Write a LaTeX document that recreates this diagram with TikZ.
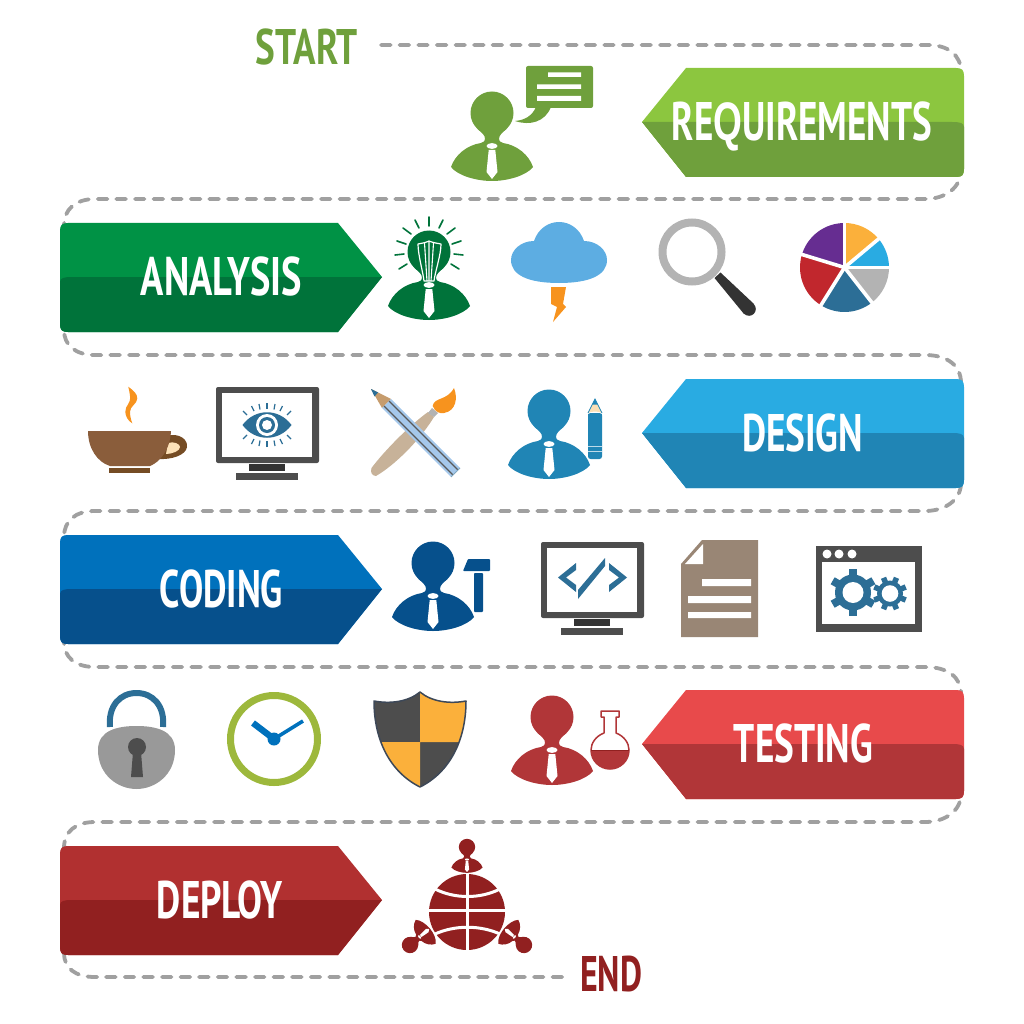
\documentclass[tikz,border=0pt]{standalone}
\usepackage{fontspec}
\usepackage{graphicx}
\setmainfont{Fira Sans}
\newfontfamily\lblfont{PT Sans}
\newfontfamily\qfont{Liberation Sans}
\definecolor{reqL}{HTML}{8CC63F}\definecolor{reqD}{HTML}{6FA03C}
\definecolor{anaL}{HTML}{009245}\definecolor{anaD}{HTML}{00733A}
\definecolor{desL}{HTML}{29ABE2}\definecolor{desD}{HTML}{2085B5}
\definecolor{codL}{HTML}{0071BC}\definecolor{codD}{HTML}{06508C}
\definecolor{tesL}{HTML}{E84A4B}\definecolor{tesD}{HTML}{B13638}
\definecolor{depL}{HTML}{B13030}\definecolor{depD}{HTML}{912020}
\definecolor{steel}{HTML}{2C6E96}\definecolor{dgrey}{HTML}{4D4D4D}
\definecolor{lgrey}{HTML}{B3B3B3}\definecolor{orng}{HTML}{F7931E}
\definecolor{amber}{HTML}{FBB03B}\definecolor{tan1}{HTML}{C7B299}
\definecolor{routec}{HTML}{A0A0A0}
\tikzset{
  route/.style={draw=routec,line width=3.8pt,line cap=round,dash pattern=on 9.6pt off 9pt},
  lbl/.style={inner sep=0pt,outer sep=0pt,font=\lblfont\bfseries},
  ray/.style={line width=1.6pt,line cap=round},
}
\newcommand\fitlbl[3]{\resizebox{#1pt}{#2pt}{\vphantom{H}\smash{#3}}}
% banner pointing left
\newcommand\bannerL[6]{\begin{scope}[shift={(0,#1)}]
  \fill[#2] (642,54) -- (686,0) -- (956,0) .. controls (962,0) and (964,2) .. (964,8) -- (964,101) .. controls (964,107) and (962,109) .. (956,109) -- (686,109) -- cycle;
  \fill[#3] (642,54) .. controls (700,54) and (900,54) .. (952,54) .. controls (960,54) and (964,55) .. (964,59) -- (964,101) .. controls (964,107) and (962,109) .. (956,109) -- (686,109) -- cycle;
  \node[lbl,text=white] (#4) at (#6,53.5) {#5};
\end{scope}}
% banner pointing right
\newcommand\bannerR[6]{\begin{scope}[shift={(0,#1)}]
  \fill[#2] (382,54) -- (338,0) -- (68,0) .. controls (62,0) and (60,2) .. (60,8) -- (60,101) .. controls (60,107) and (62,109) .. (68,109) -- (338,109) -- cycle;
  \fill[#3] (382,54) .. controls (330,54) and (120,54) .. (72,54) .. controls (64,54) and (60,55) .. (60,59) -- (60,101) .. controls (60,107) and (62,109) .. (68,109) -- (338,109) -- cycle;
  \node[lbl,text=white] (#4) at (#6,53.5) {#5};
\end{scope}}
\newcommand\person[3]{\begin{scope}[#1]
  \path[#3] (0,0) circle[radius=21.5] (-41,54) .. controls (-34,63) and (-15,68) .. (0,68) .. controls (15,68) and (34,63) .. (41,54) .. controls (37,42) and (25,32) .. (11,30) -- (-11,30) .. controls (-25,32) and (-37,42) .. (-41,54) -- cycle;
  \fill[#2] (0,0) circle[radius=21.5];
  \fill[#2] (-15,15.6) .. controls (-10,20) and (-7,22) .. (-7,26) .. controls (-7,28) and (-8,29) .. (-11,30)
  .. controls (-25,32) and (-37,42) .. (-41,54) .. controls (-34,63) and (-15,68) .. (0,68)
  .. controls (15,68) and (34,63) .. (41,54) .. controls (37,42) and (25,32) .. (11,30)
  .. controls (8,29) and (7,28) .. (7,26) .. controls (7,22) and (10,20) .. (15,15.6) -- cycle;
  \fill[white] (0,33) ellipse[x radius=5.5,y radius=2.9];
  \fill[white] (-3.3,37) -- (3.3,37) -- (5.5,59) -- (0,66) -- (-5.5,59) -- cycle;
\end{scope}}
\newcommand\monitor[2]{\begin{scope}[shift={(#1,#2)}]
  \fill[dgrey,rounded corners=2pt] (216,387) rectangle (319,463);
  \fill[white] (222,393) rectangle (312,457);
  \fill[black!80] (249,464) rectangle (285,471);
  \fill[dgrey] (236,473) rectangle (298,480);
\end{scope}}
\newcommand\gear[8]{\begin{scope}[shift={(#1,#2)}]
  \fill[steel] (0,0) circle[radius=#3];
  \foreach \a in {1,...,#6}{\draw[steel,line width=#5pt] (0,0) -- (\a*360/#6+#7:#4);}
  \fill[white] (0,0) circle[radius=#8];
\end{scope}}
\begin{document}
\begin{tikzpicture}[x=1pt,y=-1pt]
\useasboundingbox (0,0) rectangle (1024,1024);
\coordinate (routeStart) at (381,45);
\coordinate (routeEnd) at (565,977);
\path[route] (routeStart) -- (928,45) .. controls (948,45) and (961,55) .. (961,72) -- (961,170)
 .. controls (961,188) and (945,199) .. (925,199) -- (95,199) .. controls (75,199) and (64,210) .. (64,225) -- (64,330)
 .. controls (64,345) and (75,355) .. (95,355) -- (925,355) .. controls (948,355) and (961,366) .. (961,383) -- (961,483)
 .. controls (961,500) and (945,511) .. (925,511) -- (95,511) .. controls (75,511) and (64,521) .. (64,537) -- (64,642)
 .. controls (64,657) and (75,667) .. (95,667) -- (925,667) .. controls (948,667) and (961,677) .. (961,694) -- (961,794)
 .. controls (961,811) and (945,822) .. (925,822) -- (95,822) .. controls (75,822) and (64,832) .. (64,848) -- (64,953)
 .. controls (64,968) and (75,977) .. (95,977) -- (routeEnd);

\node[lbl,text=reqD] (start) at (307,47.5) {\fitlbl{102}{35}{START}};
\node[lbl,text=depD] (end) at (611,973.5) {\fitlbl{62}{35}{END}};

\bannerL{68}{reqL}{reqD}{requirements}{\fitlbl{260}{38}{RE{\qfont Q}UIREMENTS}}{802}
\bannerR{223}{anaL}{anaD}{analysis}{\fitlbl{161}{38}{ANALYSIS}}{221.5}
\bannerL{379}{desL}{desD}{design}{\fitlbl{121}{37}{DESIGN}}{802.5}
\bannerR{535}{codL}{codD}{coding}{\fitlbl{123}{37}{CODING}}{221.5}
\bannerL{690}{tesL}{tesD}{testing}{\fitlbl{139}{38}{TESTING}}{803.5}
\bannerR{846}{depL}{depD}{deploy}{\fitlbl{126}{37}{DEPLOY}}{220}

% requirements person and speech bubble
\person{shift={(492,113)}}{reqD}{}
\fill[reqD,rounded corners=2pt] (526,66) rectangle (593,108);
\fill[reqD] (536,107) .. controls (532,116) and (525,120) .. (515,121) .. controls (530,126) and (545,122) .. (551,107) -- cycle;
\fill[white] (548,72.5) rectangle (581,77) (537,84.5) rectangle (581,89) (537,96) rectangle (581,101);

% analysis person with bulb
\person{shift={(429,252)}}{anaD}{}
\foreach \a/\b/\c/\d in {429/217/429/226, 415/220/419/228, 403/228/411/234, 397/241/406/244, 395/255/404/254, 399/269/407/264,
                         443/220/439/228, 455/228/447/234, 461/241/452/244, 463/255/454/254, 459/269/451/264}{
  \draw[anaD,ray] (\a,\b) -- (\c,\d);
}
\draw[white,line width=1.2pt,line join=round] (418,244) .. controls (424,243) and (427,242) .. (429,241) .. controls (431,242) and (435,243) .. (441,244) .. controls (441,255) and (435,272) .. (434,281) -- (424,281) .. controls (423,272) and (418,255) .. (418,244) -- cycle;
\draw[white,line width=1.1pt] (424.5,243) -- (427,281) (433.5,243) -- (431,281) (429,241) -- (429,281);

% cloud and lightning
\fill[color={rgb,255:red,93;green,173;blue,226}] (534,241) .. controls (538,229) and (548,222) .. (559,222) .. controls (570,222) and (580,229) .. (584,241) .. controls (597,241) and (607,250) .. (607,260) .. controls (607,275) and (590,283) .. (559,283) .. controls (528,283) and (511,275) .. (511,260) .. controls (511,250) and (521,241) .. (534,241) -- cycle;
\fill[orng] (551,287) -- (566,287) -- (563,304) -- (566,307) -- (553,322) -- (557,307) -- (551,304) -- cycle;

% magnifier
\draw[lgrey,line width=8pt] (692,252) circle[radius=29.5];
\fill[black!80] (714.5,278) -- (720.5,272.5) -- (754,304) -- (744,314) -- cycle;
\fill[black!80] (749,309) circle[radius=6.8];

% pie chart
\begin{scope}[shift={(844.5,267.5)},y=1pt]
  \fill[amber] (0,0) -- (90:44.5) arc[start angle=90,end angle=40,radius=44.5] -- cycle;
  \fill[desL] (0,0) -- (40:44.5) arc[start angle=40,end angle=0,radius=44.5] -- cycle;
  \fill[lgrey] (0,0) -- (0:44.5) arc[start angle=0,end angle=-52,radius=44.5] -- cycle;
  \fill[steel] (0,0) -- (-52:44.5) arc[start angle=-52,end angle=-122,radius=44.5] -- cycle;
  \fill[color={rgb,255:red,193;green,39;blue,45}] (0,0) -- (-122:44.5) arc[start angle=-122,end angle=-197,radius=44.5] -- cycle;
  \fill[color={rgb,255:red,102;green,45;blue,145}] (0,0) -- (163:44.5) arc[start angle=163,end angle=90,radius=44.5] -- cycle;
  \foreach \a in {90,40,0,-52,-122,163}{\draw[white,line width=3.6pt] (0,0) -- (\a:46);}
\end{scope}

% coffee
\fill[color={rgb,255:red,117;green,76;blue,36}] (165,436) .. controls (180,432) and (188,440) .. (187,447) .. controls (186,455) and (172,460) .. (157,459) -- cycle;
\fill[color={rgb,255:red,253;green,226;blue,184}] (168,443) .. controls (174,441) and (180,444) .. (180,447) .. controls (180,451) and (172,454) .. (166,454) -- cycle;
\fill[color={rgb,255:red,138;green,93;blue,59}] (88,431) -- (171,431) .. controls (170,450) and (160,462) .. (150,466) -- (110,466) .. controls (97,462) and (88,448) .. (88,431) -- cycle;
\fill[color={rgb,255:red,117;green,76;blue,36}] (109,468) rectangle (150,473);
\fill[orng] (128.3,386.7) .. controls (134,391) and (137.3,394) .. (137.3,398.3) .. controls (137.3,404) and (130,406) .. (130,411.7) .. controls (130,416) and (131,420) .. (132.3,423.3) .. controls (128,421) and (125.3,416) .. (125.3,411.7) .. controls (125.3,405) and (131,404) .. (130,396) .. controls (129.5,392) and (129,390) .. (128.3,386.7) -- cycle;

% eye monitor
\monitor{0}{0}
\begin{scope}[shift={(267,425)}]
  \fill[steel] (-24.5,0) .. controls (-12,-17) and (12,-17) .. (24.5,0) .. controls (12,17) and (-12,17) .. (-24.5,0) -- cycle;
  \fill[white] (0,0) circle[radius=11];
  \fill[steel] (0,0) circle[radius=8];
  \fill[white] (0,0) circle[radius=5];
  \foreach \s in {1,-1}{
    \draw[steel,line width=1.2pt] (0,\s*22) -- (0,\s*16);
    \foreach \t in {1,-1}{
      \draw[steel,line width=1.2pt] (\t*8,\s*21) -- (\t*7,\s*15.5) (\t*15.5,\s*19) -- (\t*13,\s*14) (\t*24,\s*14) -- (\t*20,\s*10);
    }
  }
\end{scope}

% brush and pencil
\fill[tan1] (428,412) .. controls (410,425) and (385,450) .. (371.5,468) .. controls (370,472) and (372,476) .. (376,476) .. controls (395,465) and (420,440) .. (434,417) -- cycle;
\fill[lgrey] (428,413) -- (432,408) -- (438,413) -- (434,417) -- cycle;
\fill[orng] (432.7,406) .. controls (434,397) and (447,401) .. (454,388) .. controls (458,398) and (456,411) .. (444,413) .. controls (440,414) and (435,412) .. (432.7,406) -- cycle;
\fill[color={rgb,255:red,198;green,156;blue,109}] (371,389) -- (391,399) -- (382,408) -- cycle;
\fill[steel] (371,389) -- (378,392.5) -- (374.5,396.5) -- cycle;
\fill[color={rgb,255:red,165;green,200;blue,235}] (382,408) -- (391,399) -- (460,468) -- (451,477) -- cycle;
\draw[black!65,line width=1.1pt] (389,401) -- (458,470) (384,406) -- (453,475);
\draw[steel!60,line width=1pt] (451,477) -- (460,468);

% design person and pencil
\person{shift={(549,411)}}{desD}{}
\fill[desD,rounded corners=2.5pt] (588,413) -- (602,413) -- (602,459) -- (588,459) -- cycle;
\fill[desD] (588,414) -- (602,414) -- (602,440) -- (588,440) -- cycle;
\fill[color={rgb,255:red,251;green,223;blue,181}] (588,413) -- (595,399) -- (602,413) .. controls (598,411) and (592,411) .. (588,413) -- cycle;
\fill[desD] (592.3,404.5) -- (595,399) -- (597.7,404.5) -- cycle;
\draw[desD,line width=.8pt] (588,413) -- (595,399) -- (602,413);
\draw[white!70!desD,line width=1pt] (588,446) -- (602,446) (588,451) -- (602,451);

% coding person, hammer
\person{shift={(433,563)}}{codD}{}
\fill[codD,rounded corners=.8pt] (468,559) -- (490,559) -- (490,571) -- (463,571) -- cycle;
\fill[codD,rounded corners=.8pt] (474,573) rectangle (483,612);

% code monitor
\monitor{325}{155}
\fill[steel] (576,563) -- (558,577.5) -- (576,592) -- (576,585) -- (566,577.5) -- (576,570) -- cycle;
\fill[steel] (609,563) -- (627,577.5) -- (609,592) -- (609,585) -- (619,577.5) -- (609,570) -- cycle;
\fill[steel] (605,558) -- (605,566) -- (578,599) -- (578,590) -- cycle;

% document
\fill[color={rgb,255:red,153;green,134;blue,117}] (702,540) -- (758,540) -- (758,637) -- (681,637) -- (681,564) -- cycle;
\fill[white] (685,564) -- (703,544) -- (703,564) -- cycle;
\fill[white] (702,579) rectangle (751,586) (688,596) rectangle (751,603) (688,612) rectangle (751,618);

% settings window
\fill[dgrey] (816,546) rectangle (922,632);
\fill[white] (822,562) rectangle (915,624);
\fill[white] (827,554) circle[radius=4.5] (839,554) circle[radius=4.5] (852,554) circle[radius=4.5];
\gear{853}{592.5}{18}{23.5}{8}{6}{90}{10.5}
\gear{890}{593.5}{13}{17}{5.5}{8}{22.5}{8.3}

% lock
\draw[steel,line width=6pt] (110,727) .. controls (108,706) and (120,693) .. (136.5,693) .. controls (153,693) and (165,706) .. (163,727);
\fill[black!40] (136.5,726) .. controls (155,726) and (175,730) .. (175,750) .. controls (175,775) and (155,789) .. (136.5,789) .. controls (118,789) and (98,775) .. (98,750) .. controls (98,730) and (118,726) .. (136.5,726) -- cycle;
\fill[dgrey] (137,747) circle[radius=9];
\fill[dgrey] (133,752) -- (141,752) -- (143,777) -- (131,777) -- cycle;

% clock
\draw[color={rgb,255:red,157;green,184;blue,60},line width=7pt] (274,739) circle[radius=43.5];
\draw[codL,line width=3.6pt] (274,739) -- (303,721);
\draw[codL,line width=6.4pt] (274,739) -- (253,723);
\fill[codL] (274,739) circle[radius=6.5];

% shield
\begin{scope}
  \clip (420,692) .. controls (408,702) and (390,704) .. (374,701) .. controls (374,740) and (390,772) .. (420,787) .. controls (450,772) and (466,740) .. (466,701) .. controls (450,704) and (432,702) .. (420,692) -- cycle;
  \fill[dgrey] (370,690) rectangle (420,742) (420,742) rectangle (470,790);
  \fill[amber] (420,690) rectangle (470,742) (370,742) rectangle (420,790);
\end{scope}
\draw[color={rgb,255:red,61;green,72;blue,88},line width=1.5pt,line join=round] (420,692) .. controls (408,702) and (390,704) .. (374,701) .. controls (374,740) and (390,772) .. (420,787) .. controls (450,772) and (466,740) .. (466,701) .. controls (450,704) and (432,702) .. (420,692) -- cycle;

% testing person and flask
\person{shift={(552,717)}}{tesD}{}
\draw[tesD,line width=1.5pt,fill=white,line join=round] (601,711) -- (619,711) -- (619,717) -- (616,717) -- (616,733) .. controls (624,736) and (629,743) .. (629,750) .. controls (629,761) and (620,769) .. (610,769) .. controls (600,769) and (591,761) .. (591,750) .. controls (591,743) and (596,736) .. (604,733) -- (604,717) -- (601,717) -- cycle;
\fill[tesD] (591,750) -- (629,750) .. controls (629,761) and (620,769) .. (610,769) .. controls (600,769) and (591,761) .. (591,750) -- cycle;
\draw[depD,line width=1pt] (591,750) -- (629,750);

% deploy globe with people
\fill[depD] (467,912) circle[radius=38];
\draw[white,line width=3pt] (467,872) -- (467,952) (427,910.5) -- (507,910.5);
\draw[white,line width=3pt] (435,889) .. controls (455,899) and (480,899) .. (500,889);
\draw[white,line width=3pt] (435,934) .. controls (455,925) and (480,925) .. (500,934);
\person{shift={(467,847)},scale=.38}{depD}{}
\person{shift={(410,945)},rotate=130,scale=.38}{depD}{draw=white,line width=2pt}
\person{shift={(524,945)},rotate=-130,scale=.38}{depD}{draw=white,line width=2pt}
\end{tikzpicture}
\end{document}
